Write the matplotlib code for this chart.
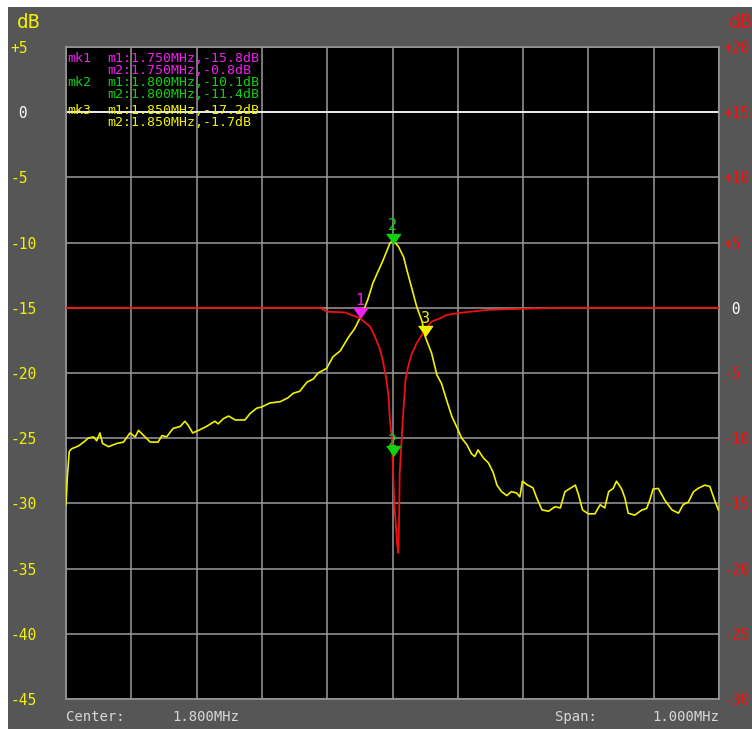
import matplotlib
matplotlib.use("Agg")
import matplotlib.pyplot as plt
from matplotlib.patches import Rectangle


# trace 1 (yellow, left axis, dB)
yellow_freq = [
    1.300, 1.302, 1.305, 1.309, 1.319, 1.327, 1.334, 1.342, 1.347, 1.352,
    1.356, 1.365, 1.378, 1.388, 1.398, 1.406, 1.411, 1.418, 1.429, 1.441,
    1.447, 1.454, 1.464, 1.475, 1.482, 1.487, 1.494, 1.503, 1.515, 1.528,
    1.533, 1.541, 1.549, 1.559, 1.574, 1.582, 1.592, 1.600, 1.612, 1.628,
    1.640, 1.648, 1.658, 1.669, 1.679, 1.686, 1.699, 1.709, 1.720, 1.732,
    1.742, 1.750, 1.758, 1.762, 1.770, 1.786, 1.796, 1.801, 1.809, 1.817,
    1.822, 1.829, 1.837, 1.845, 1.850, 1.860, 1.868, 1.875, 1.883, 1.891,
    1.898, 1.906, 1.914, 1.921, 1.926, 1.931, 1.939, 1.947, 1.954, 1.960,
    1.967, 1.975, 1.982, 1.990, 1.995, 1.999, 2.007, 2.015, 2.021, 2.029,
    2.039, 2.049, 2.057, 2.064, 2.072, 2.080, 2.085, 2.091, 2.100, 2.110,
    2.118, 2.125, 2.131, 2.138, 2.143, 2.151, 2.156, 2.161, 2.171, 2.182,
    2.189, 2.194, 2.199, 2.207, 2.217, 2.228, 2.238, 2.245, 2.253, 2.261,
    2.268, 2.278, 2.286, 2.294, 2.299, 2.300,
]
yellow_db = [
    -30.1, -28.0, -26.0, -25.8, -25.6, -25.3, -25.0, -24.9, -25.2, -24.6,
    -25.4, -25.65, -25.4, -25.3, -24.6, -24.9, -24.4, -24.75, -25.3, -25.3,
    -24.8, -24.9, -24.25, -24.1, -23.7, -24.0, -24.6, -24.4, -24.1, -23.7,
    -23.9, -23.5, -23.3, -23.6, -23.6, -23.1, -22.7, -22.6, -22.3, -22.2,
    -21.9, -21.55, -21.4, -20.7, -20.45, -20.0, -19.65, -18.75, -18.3, -17.3,
    -16.6, -15.8, -14.9, -14.4, -13.1, -11.3, -10.05, -9.8, -10.3, -11.1,
    -12.1, -13.4, -14.9, -16.0, -17.2, -18.5, -20.15, -20.8, -22.1, -23.35,
    -24.1, -25.0, -25.5, -26.2, -26.4, -25.9, -26.5, -26.9, -27.6, -28.6,
    -29.1, -29.4, -29.1, -29.2, -29.5, -28.3, -28.6, -28.8, -29.6, -30.5,
    -30.6, -30.25, -30.35, -29.1, -28.85, -28.6, -29.35, -30.5, -30.8, -30.8,
    -30.1, -30.35, -29.1, -28.85, -28.3, -28.9, -29.6, -30.75, -30.9, -30.5,
    -30.4, -29.75, -28.9, -28.85, -29.75, -30.5, -30.75, -30.1, -29.9, -29.1,
    -28.85, -28.6, -28.7, -29.85, -30.5, -30.5,
]

# trace 2 (red, right axis, dB)
red_freq = [
    1.300, 1.689, 1.700, 1.727, 1.750, 1.766, 1.773, 1.781, 1.786, 1.790,
    1.794, 1.796, 1.799, 1.800, 1.803, 1.805, 1.807, 1.809, 1.810, 1.8105,
    1.811, 1.814, 1.817, 1.820, 1.824, 1.829, 1.837, 1.850, 1.860, 1.873,
    1.883, 1.901, 1.919, 1.944, 1.980, 2.057, 2.300,
]
red_db = [
    0.0, 0.0, -0.3, -0.35, -0.8, -1.45, -2.2, -3.2, -4.25, -5.3,
    -6.8, -8.6, -9.9, -11.4, -15.25, -16.5, -18.05, -18.8, -16.5, -14.7,
    -12.7, -10.1, -7.6, -5.5, -4.5, -3.6, -2.7, -1.7, -1.05, -0.8,
    -0.55, -0.4, -0.3, -0.17, -0.1, 0.0, 0.0,
]

# markers
marker_names = ["1", "2", "3"]
marker_freq = [1.750, 1.800, 1.850]
marker_m1 = [-15.8, -10.1, -17.2]
marker_m2 = [-0.8, -11.4, -1.7]

left_ticks = [5, 0, -5, -10, -15, -20, -25, -30, -35, -40, -45]
left_labels = ["+5", " 0", "-5", "-10", "-15", "-20", "-25", "-30", "-35", "-40", "-45"]
right_ticks = [20, 15, 10, 5, 0, -5, -10, -15, -20, -25, -30]
right_labels = ["+20", "+15", "+10", "+5", " 0", "-5", "-10", "-15", "-20", "-25", "-30"]

center_text = "1.800MHz"
span_text = "1.000MHz"

BG = "#565656"
GRID = "#9a9a9a"
YELLOW = "#f2f200"
RED = "#f01010"
MAGENTA = "#f020f0"
GREEN = "#10d010"
TEXT = "#d8d8d8"
MONO = "DejaVu Sans Mono"

W, H = 752, 729
fig = plt.figure(figsize=(W / 100, H / 100), dpi=100, facecolor="white")
fig.patches.append(Rectangle((8 / W, 0), 1, 1 - 7 / H, transform=fig.transFigure,
                             facecolor=BG, edgecolor="none", zorder=-10))

ax = fig.add_axes([66 / W, 1 - 699 / H, (719 - 66) / W, (699 - 47) / H])
ax.set_facecolor("black")
ax.set_xlim(1.3, 2.3)
ax.set_ylim(-45, 5)
ax.set_xticks([1.3 + 0.1 * i for i in range(11)])
ax.set_xticklabels([])
ax.set_yticks(left_ticks)
ax.set_yticklabels(left_labels, family=MONO, fontsize=10.5)
for lbl, val in zip(ax.get_yticklabels(), left_ticks):
    lbl.set_horizontalalignment("left")
    lbl.set_color("white" if val == 0 else YELLOW)
ax.tick_params(axis="both", length=0)
ax.tick_params(axis="y", pad=40)
ax.grid(True, color=GRID, linewidth=1.1)
ax.set_axisbelow(True)
for sp in ax.spines.values():
    sp.set_color(GRID)
    sp.set_linewidth(1.1)

# reference line
ax.axhline(0, color="white", linewidth=1.2, zorder=1.5)

ax.plot(yellow_freq, yellow_db, color=YELLOW, linewidth=1.2, zorder=3)

ax2 = ax.twinx()
ax2.set_ylim(-30, 20)
ax2.set_yticks(right_ticks)
ax2.set_yticklabels(right_labels, family=MONO, fontsize=10.5)
for lbl, val in zip(ax2.get_yticklabels(), right_ticks):
    lbl.set_color("white" if val == 0 else RED)
ax2.tick_params(axis="y", length=0, pad=3)
for sp in ax2.spines.values():
    sp.set_visible(False)
ax2.plot(red_freq, red_db, color=RED, linewidth=1.3, zorder=2)

# marker triangles, tip on the trace
tri = [(-0.7, 1.0), (0.7, 1.0), (0.0, 0.0)]
marker_colors = [MAGENTA, GREEN, YELLOW]
for name, f, v, c in zip(marker_names, marker_freq, marker_m1, marker_colors):
    ax2.plot([f], [v + 15], marker=tri, markersize=14.4, color=c, linestyle="none", zorder=5)
    ax2.annotate(name, (f, v + 15), xytext=(0, 13), textcoords="offset points",
                 ha="center", va="center", color=c, family=MONO, fontsize=11, zorder=6)
ax2.plot([marker_freq[1]], [marker_m2[1]], marker=tri, markersize=14.4, color=GREEN,
         linestyle="none", zorder=5)
ax2.annotate(marker_names[1], (marker_freq[1], marker_m2[1]), xytext=(0, 11),
             textcoords="offset points", ha="center", va="center", color=GREEN,
             family=MONO, fontsize=11, zorder=6)

# marker readout
rows_y = [(58, 70), (82, 94), (110, 122)]
for i, (f, v1, v2, c) in enumerate(zip(marker_freq, marker_m1, marker_m2, marker_colors)):
    y1, y2 = rows_y[i]
    fig.text(67 / W, 1 - y1 / H, f"mk{i + 1}", color=c, family=MONO, fontsize=9.5, va="center")
    fig.text(107 / W, 1 - y1 / H, f"m1:{f:.3f}MHz,{v1:.1f}dB", color=c, family=MONO,
             fontsize=9.5, va="center")
    fig.text(107 / W, 1 - y2 / H, f"m2:{f:.3f}MHz,{v2:.1f}dB", color=c, family=MONO,
             fontsize=9.5, va="center")

fig.text(17 / W, 1 - 22 / H, "dB", color=YELLOW, family=MONO, fontsize=14, va="center")
fig.text(729 / W, 1 - 22 / H, "dB", color=RED, family=MONO, fontsize=14, va="center")

fig.text(66 / W, 1 - 717 / H, "Center:", color=TEXT, family=MONO, fontsize=10, va="center")
fig.text(172 / W, 1 - 717 / H, center_text, color=TEXT, family=MONO, fontsize=10, va="center")
fig.text(555 / W, 1 - 717 / H, "Span:", color=TEXT, family=MONO, fontsize=10, va="center")
fig.text(719 / W, 1 - 717 / H, span_text, color=TEXT, family=MONO, fontsize=10,
         va="center", ha="right")

fig.savefig("out.png", dpi=100, facecolor=fig.get_facecolor())
